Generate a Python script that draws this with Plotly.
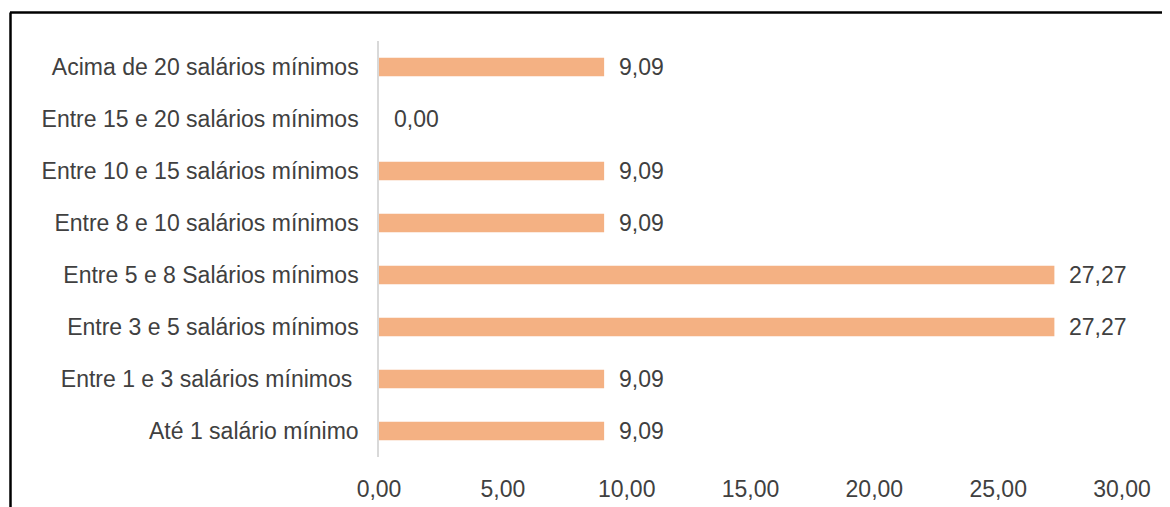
import plotly.graph_objects as go

categories = [
    "Até 1 salário mínimo",
    "Entre 1 e 3 salários mínimos ",
    "Entre 3 e 5 salários mínimos",
    "Entre 5 e 8 Salários mínimos",
    "Entre 8 e 10 salários mínimos",
    "Entre 10 e 15 salários mínimos",
    "Entre 15 e 20 salários mínimos",
    "Acima de 20 salários mínimos",
]
values = [9.09, 9.09, 27.27, 27.27, 9.09, 9.09, 0.00, 9.09]
x_ticks = [0, 5, 10, 15, 20, 25, 30]

# page body has an 8px margin; figure sized/positioned to compensate
OFF = 8
W, H = 1170 - OFF, 507 - OFF
L, R, T, B = 379 - OFF, 48, 41 - OFF, 50
pw, ph = W - L - R, H - T - B

font = "Liberation Sans, Arial, sans-serif"
txt = "#404040"
fs = 23

fig = go.Figure(go.Bar(
    x=values, y=categories, orientation="h",
    marker=dict(color="#F4B183", line=dict(width=0)),
    width=0.36,
))

for v, c in zip(values, categories):
    fig.add_annotation(x=v, y=c, text=f"{v:.2f}".replace(".", ","),
                       xanchor="left", yanchor="middle", xshift=13, showarrow=False,
                       font=dict(family=font, size=fs, color=txt))

def px_x(p):
    return (p - OFF - L) / pw

def px_y(p):
    return (H - B - (p - OFF)) / ph

fig.add_shape(type="line", xref="paper", yref="paper",
              x0=px_x(10), x1=px_x(1180), y0=px_y(12.5), y1=px_y(12.5),
              line=dict(color="black", width=2.5))
fig.add_shape(type="line", xref="paper", yref="paper",
              x0=px_x(10.5), x1=px_x(10.5), y0=px_y(12.5), y1=px_y(515),
              line=dict(color="black", width=2.5))

fig.update_layout(
    width=W, height=H,
    margin=dict(l=L, r=R, t=T, b=B, pad=0, autoexpand=False),
    paper_bgcolor="white", plot_bgcolor="white",
    separators=",.",
    showlegend=False,
    font=dict(family=font, size=fs, color=txt),
    xaxis=dict(range=[0, 30], tickvals=x_ticks, tickformat=".2f",
               showgrid=False, zeroline=False, showline=False, automargin=False,
               ticklabelstandoff=16, tickfont=dict(size=fs, color=txt)),
    yaxis=dict(categoryorder="array", categoryarray=categories,
               showgrid=False, zeroline=False, showline=True, automargin=False,
               linecolor="#d9d9d9", linewidth=1.5,
               ticklabelstandoff=14, tickfont=dict(size=fs, color=txt)),
)

fig.write_html("out.html")
